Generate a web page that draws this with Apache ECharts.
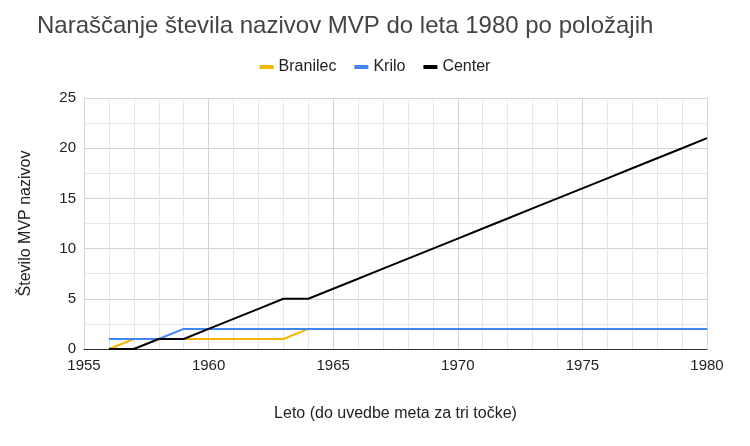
<!DOCTYPE html>
<html>
<head>
<meta charset="utf-8">
<script src="https://cdn.jsdelivr.net/npm/echarts@6/dist/echarts.min.js"></script>
<style>
  html, body { margin: 0; padding: 0; background: #fff; }
  #chart { width: 750px; height: 446px; }
</style>
</head>
<body>
<div id="chart"></div>
<script>
    var years = [1956, 1957, 1958, 1959, 1960, 1961, 1962, 1963, 1964, 1965, 1966, 1967, 1968,
                 1969, 1970, 1971, 1972, 1973, 1974, 1975, 1976, 1977, 1978, 1979, 1980];
    var branilec = [0, 1, 1, 1, 1, 1, 1, 1, 2, 2, 2, 2, 2, 2, 2, 2, 2, 2, 2, 2, 2, 2, 2, 2, 2];
    var krilo = [1, 1, 1, 2, 2, 2, 2, 2, 2, 2, 2, 2, 2, 2, 2, 2, 2, 2, 2, 2, 2, 2, 2, 2, 2];
    var center = [0, 0, 1, 1, 2, 3, 4, 5, 5, 6, 7, 8, 9, 10, 11, 12, 13, 14, 15, 16, 17, 18, 19, 20, 21];

    function pairs(vals) {
        return years.map(function (y, i) { return [y, vals[i]]; });
    }

    var chart = echarts.init(document.getElementById('chart'));
    var font = '"Liberation Sans", Arial, sans-serif';
    var option = {};
    option.title = {
        text: 'Naraščanje števila nazivov MVP do leta 1980 po položajih',
        left: 32,
        top: 9,
        textStyle: { fontFamily: font, fontSize: 24, fontWeight: 'normal', color: '#444' }
    };
    option.legend = {
        top: 54,
        left: 'center',
        itemWidth: 14,
        itemHeight: 4,
        icon: 'rect',
        itemGap: 18,
        textStyle: { fontFamily: font, fontSize: 16, color: '#222' },
        data: ['Branilec', 'Krilo', 'Center']
    };
    option.grid = { left: 84, right: 43, top: 98, bottom: 97 };
    option.xAxis = {
        type: 'value',
        min: 1955,
        max: 1980,
        interval: 5,
        name: 'Leto (do uvedbe meta za tri točke)',
        nameLocation: 'middle',
        nameGap: 57,
        nameTextStyle: { fontFamily: font, fontSize: 16, color: '#222' },
        axisLine: { lineStyle: { color: '#333', width: 1 } },
        axisTick: { show: false },
        axisLabel: {
            fontFamily: font, fontSize: 15, color: '#222', margin: 9,
            formatter: function (v) { return String(v); }
        },
        splitLine: { show: true, lineStyle: { color: '#d4d4d4' } },
        minorTick: { show: false, splitNumber: 5 },
        minorSplitLine: { show: true, lineStyle: { color: '#e6e6e6' } }
    };
    option.yAxis = {
        type: 'value',
        min: 0,
        max: 25,
        interval: 5,
        name: 'Število MVP nazivov',
        nameLocation: 'middle',
        nameGap: 50,
        nameTextStyle: { fontFamily: font, fontSize: 16, color: '#222' },
        axisLine: { show: false },
        axisTick: { show: false },
        axisLabel: { fontFamily: font, fontSize: 15, color: '#222', margin: 8 },
        splitLine: { show: true, lineStyle: { color: '#d4d4d4' } },
        minorTick: { show: false, splitNumber: 2 },
        minorSplitLine: { show: true, lineStyle: { color: '#e6e6e6' } }
    };
    option.series = [
        {
            name: 'Branilec', type: 'line', data: pairs(branilec), symbol: 'none',
            itemStyle: { color: '#f4b400' }, lineStyle: { width: 2, color: '#f4b400' }
        },
        {
            name: 'Krilo', type: 'line', data: pairs(krilo), symbol: 'none',
            itemStyle: { color: '#4285f4' }, lineStyle: { width: 2, color: '#4285f4' }
        },
        {
            name: 'Center', type: 'line', data: pairs(center), symbol: 'none',
            itemStyle: { color: '#000' }, lineStyle: { width: 2, color: '#000' }
        }
    ];
    chart.setOption(option);
</script>
</body>
</html>
